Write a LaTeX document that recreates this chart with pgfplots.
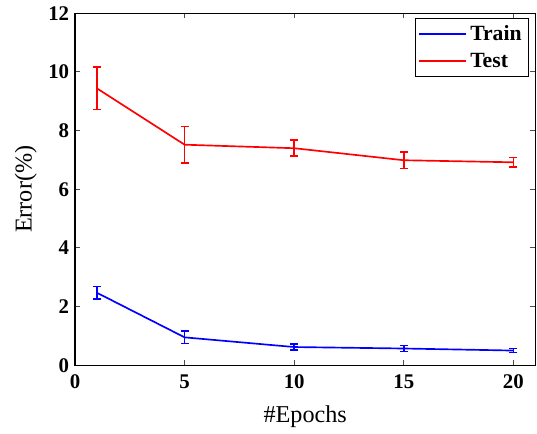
\documentclass[border=0pt]{standalone}
\usepackage{fontspec}
\setmainfont{Liberation Serif}
\usepackage{pgfplots}
\pgfplotsset{compat=1.18}

\begin{document}
\begin{tikzpicture}
\begin{axis}[
  scale only axis,
  width=276pt, height=211pt,
  xmin=0, xmax=21, ymin=0, ymax=12,
  xtick={0,5,10,15,20},
  ytick={0,2,4,6,8,10,12},
  tick align=inside,
  major tick length=3pt,
  axis line style={line width=0.8pt},
  tick style={line width=0.6pt, black!70},
  /pgf/number format/assume math mode=true,
  ticklabel style={font=\fontsize{12.5}{14}\selectfont\bfseries},
  xticklabel style={yshift=-2pt},
  xlabel={\#Epochs},
  ylabel={Error(\%)},
  label style={font=\fontsize{14.5}{16}\selectfont},
  xlabel style={yshift=-3.5pt},
  ylabel style={yshift=0pt},
  legend style={at={(rel axis cs:1,1)}, anchor=north east,
    xshift=-4pt, yshift=-3pt, draw=black,
    font=\fontsize{13}{15}\selectfont\bfseries,
    inner sep=2pt, row sep=2pt},
  legend cell align=left,
  legend image code/.code={\draw[#1] (0pt,0pt) -- (28pt,0pt);},
  legend image post style={line width=1.1pt},
]
\addplot[blue, line width=1pt, mark=none,
  error bars/.cd, y dir=both, y explicit,
  error bar style={blue, line width=1pt},
  error mark options={blue, rotate=90, mark size=2.4pt, line width=1pt}]
  table[x=x, y=y, y error=e] {
  x y e
  1 2.47 0.22
  5 0.95 0.21
  10 0.62 0.10
  15 0.57 0.10
  20 0.50 0.07
};
\addlegendentry{Train}
\addplot[red, line width=1pt, mark=none,
  error bars/.cd, y dir=both, y explicit,
  error bar style={red, line width=1pt},
  error mark options={red, rotate=90, mark size=2.4pt, line width=1pt}]
  table[x=x, y=y, y error=e] {
  x y e
  1 9.44 0.72
  5 7.52 0.62
  10 7.40 0.27
  15 6.99 0.28
  20 6.92 0.16
};
\addlegendentry{Test}
\end{axis}
\path (current axis.south west) ++(-45pt,-40pt);
\path (current axis.north east) ++(1pt,8pt);
\end{tikzpicture}
\end{document}
